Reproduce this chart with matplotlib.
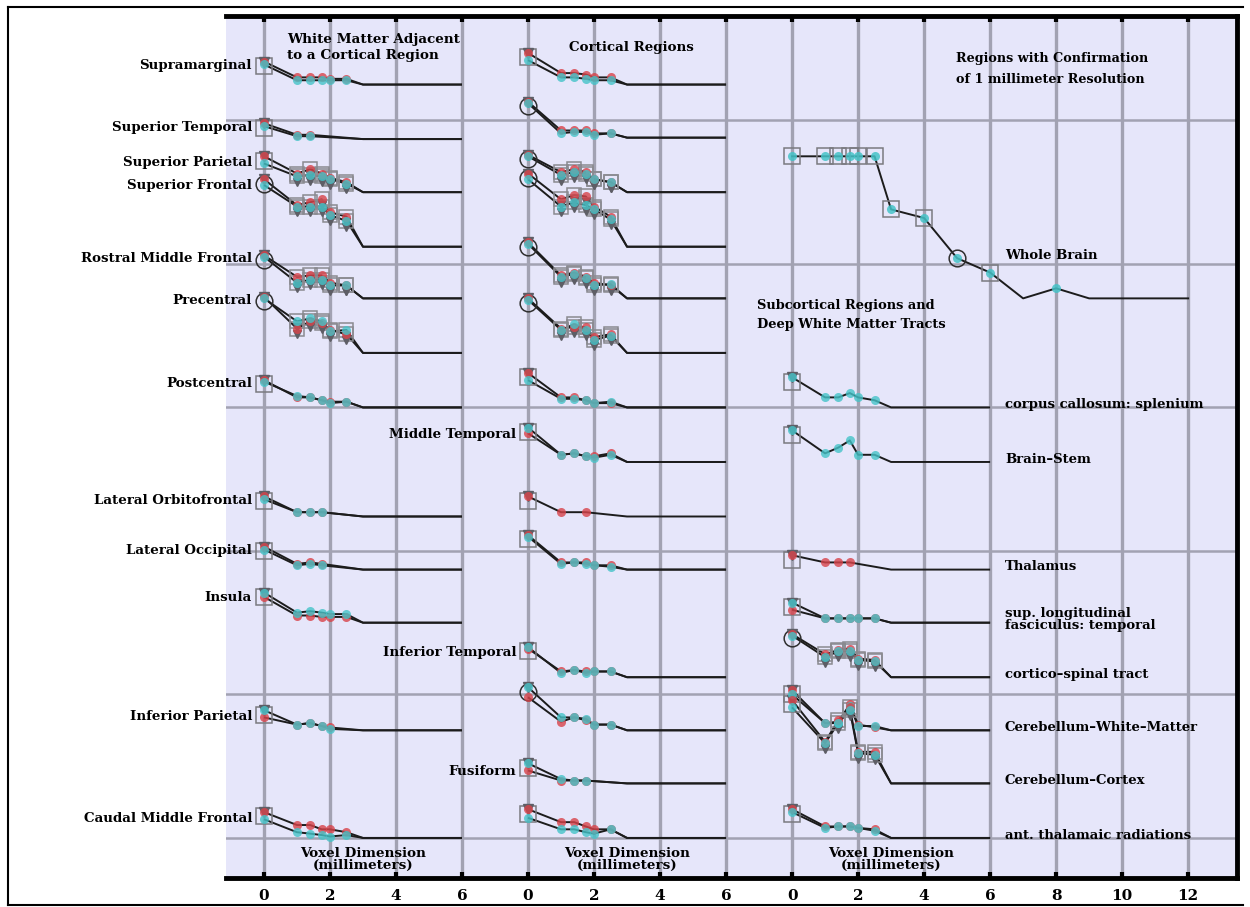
import matplotlib.pyplot as plt
import numpy as np
from matplotlib.lines import Line2D

plt.rcParams['font.family'] = ['DejaVu Serif']
plt.rcParams['font.weight'] = 'bold'

nan = np.nan

# voxel dimensions (mm) where each region was measured, and the flat tail
vox = [0, 1, 1.4, 1.75, 2, 2.5]
tail = [3, 6]
panel_x0 = [0, 8, 16]
tick_pos = np.arange(0, 29, 2)
tick_lab = ['0', '2', '4', '6', '0', '2', '4', '6', '0', '2', '4', '6', '8', '10', '12']

# --- White matter adjacent to a cortical region
p1_names = ['Supramarginal', 'Superior Temporal', 'Superior Parietal', 'Superior Frontal',
            'Rostral Middle Frontal', 'Precentral', 'Postcentral', 'Lateral Orbitofrontal',
            'Lateral Occipital', 'Insula', 'Inferior Parietal', 'Caudal Middle Frontal']
p1_red = [[54.1, 53.0, 53.0, 53.0, 52.9, 52.9],
          [49.8, 49.0, 49.0, nan, nan, nan],
          [47.5, 46.3, 46.6, 46.3, 46.0, 45.7],
          [45.9, 44.1, 44.3, 44.5, 43.6, 43.3],
          [40.6, 39.1, 39.2, 39.2, 38.7, 38.5],
          [37.7, 35.5, 36.0, 35.9, 35.4, 35.1],
          [31.9, 30.7, 30.7, 30.5, 30.4, 30.4],
          [23.8, 22.7, 22.7, 22.7, nan, nan],
          [20.3, 19.1, 19.2, 19.1, nan, nan],
          [16.8, 15.5, 15.5, 15.4, 15.4, 15.4],
          [8.4, 7.9, 8.0, 7.8, 7.7, nan],
          [1.8, 0.9, 0.9, 0.6, 0.6, 0.4]]
p1_cyan = [[53.9, 52.8, 52.8, 52.8, 52.8, 52.8],
           [49.6, 48.9, 48.9, nan, nan, nan],
           [47.0, 46.1, 46.2, 46.1, 45.9, 45.6],
           [45.5, 44.0, 44.0, 44.0, 43.4, 43.0],
           [40.5, 38.7, 38.9, 38.9, 38.5, 38.5],
           [37.6, 36.0, 36.2, 36.0, 35.3, 35.4],
           [31.8, 30.8, 30.7, 30.5, 30.3, 30.4],
           [23.6, 22.7, 22.7, 22.7, nan, nan],
           [20.1, 19.0, 19.1, 19.0, nan, nan],
           [17.1, 15.7, 15.8, 15.7, 15.6, 15.6],
           [8.9, 7.9, 8.0, 7.8, 7.6, nan],
           [1.3, 0.4, 0.3, 0.2, 0.1, 0.2]]
p1_base = [52.5, 48.7, 45.0, 41.2, 37.6, 33.8, 30.0, 22.4, 18.7, 15.0, 7.5, 0.0]

# --- Cortical regions
p2_names = ['', '', '', '', '', '', '', 'Middle Temporal', '', '', 'Inferior Temporal', '',
            'Fusiform', '']
p2_red = [[54.7, 53.3, 53.3, 53.2, 53.0, 53.0],
          [51.3, 49.3, 49.3, 49.3, 49.1, 49.1],
          [47.6, 46.4, 46.6, 46.4, 45.9, 45.7],
          [46.3, 44.5, 44.8, 44.7, 44.0, 43.3],
          [41.5, 39.2, 39.4, 39.1, 38.7, 38.5],
          [37.6, 35.5, 35.6, 35.6, 34.9, 35.1],
          [32.4, 30.7, 30.7, 30.5, 30.3, 30.3],
          [28.2, 26.7, 26.8, 26.6, 26.6, 26.8],
          [23.8, 22.7, nan, 22.7, nan, nan],
          [21.1, 19.2, 19.2, 19.2, 19.0, 19.0],
          [13.2, 11.6, 11.7, 11.6, 11.6, 11.6],
          [9.8, 8.1, 8.4, 8.2, 7.9, 7.9],
          [4.7, 4.0, 4.0, 4.0, nan, nan],
          [2.0, 1.1, 1.1, 0.8, 0.6, 0.6]]
p2_cyan = [[54.2, 53.0, 53.0, 52.9, 52.8, 52.8],
           [51.2, 49.1, 49.2, 49.2, 49.0, 49.1],
           [47.5, 46.2, 46.4, 46.3, 45.9, 45.7],
           [45.9, 44.0, 44.3, 44.1, 43.8, 43.1],
           [41.4, 39.1, 39.3, 39.0, 38.5, 38.6],
           [37.5, 35.4, 35.8, 35.4, 34.7, 35.0],
           [31.9, 30.6, 30.6, 30.5, 30.3, 30.4],
           [28.6, 26.7, 26.8, 26.6, 26.5, 26.7],
           [nan, nan, nan, nan, nan, nan],
           [21.0, 19.1, 19.2, 19.1, 19.0, 18.9],
           [13.3, 11.5, 11.7, 11.5, 11.6, 11.6],
           [10.5, 8.4, 8.4, 8.3, 7.9, 7.9],
           [5.2, 4.1, 4.0, 4.0, nan, nan],
           [1.4, 0.6, 0.6, 0.4, 0.3, 0.6]]
p2_base = [52.5, 48.8, 45.0, 41.2, 37.6, 33.8, 30.0, 26.2, 22.4, 18.7, 11.2, 7.5, 3.8, 0.0]

# --- Subcortical regions and deep white matter tracts
p3_names = ['corpus callosum: splenium', 'Brain–Stem', 'Thalamus',
            'sup. longitudinal\nfasciculus: temporal', 'cortico–spinal tract',
            'Cerebellum–White–Matter', 'Cerebellum–Cortex', 'ant. thalamaic radiations']
p3_red = [[nan, nan, nan, nan, nan, nan],
          [nan, nan, nan, nan, nan, nan],
          [19.7, 19.2, 19.2, 19.2, nan, nan],
          [15.9, 15.3, 15.3, 15.3, 15.3, 15.3],
          [14.2, 12.8, 13.1, 13.2, 12.5, 12.4],
          [10.3, 8.0, 8.1, 9.3, 7.9, 7.7],
          [9.6, 6.7, 8.2, 9.1, 6.0, 6.0],
          [2.0, 0.8, 0.8, 0.8, 0.7, 0.6]]
p3_cyan = [[32.1, 30.7, 30.7, 31.0, 30.7, 30.5],
           [28.4, 26.8, 27.2, 27.7, 26.7, 26.7],
           [nan, nan, nan, nan, nan, nan],
           [16.4, 15.3, 15.3, 15.3, 15.3, 15.3],
           [14.1, 12.6, 13.0, 13.0, 12.4, 12.3],
           [10.0, 8.0, 8.0, 9.2, 7.8, 7.8],
           [9.1, 6.6, 8.0, 8.9, 5.9, 5.8],
           [1.8, 0.7, 0.8, 0.8, 0.7, 0.5]]
p3_base = [30.0, 26.2, 18.7, 15.0, 11.2, 7.5, 3.8, 0.0]

# --- Whole brain, confirmed down to 1 mm
wb_vox = [0, 1, 1.4, 1.75, 2, 2.5, 3, 4, 5, 6, 7, 8]
wb_val = [47.5, 47.5, 47.5, 47.5, 47.5, 47.5, 43.8, 43.2, 40.4, 39.4, 37.6, 38.3]
wb_measured = [1, 1, 1, 1, 1, 1, 1, 1, 1, 1, 0, 1]
wb_base = 37.6
wb_tail = [9, 12]

RED = '#d8434a'
CYAN = '#45c3c8'
GRAY = '#5e5e66'
LINE = '#1c1c1c'
FS = 9.6
ringed = {('p1', 3), ('p1', 4), ('p1', 5), ('p2', 1), ('p2', 2), ('p2', 3), ('p2', 4),
          ('p2', 5), ('p2', 11), ('p3', 4)}
tri_marks = {('p1', 2), ('p1', 3), ('p1', 4), ('p1', 5), ('p2', 2), ('p2', 3), ('p2', 4),
             ('p2', 5), ('p3', 4), ('p3', 6)}


def draw_curve(ax, key, x0, red, cyan, base):
    xv = np.array(vox) + x0
    starts = []
    for vals, col in ((red, RED), (cyan, CYAN)):
        v = np.array(vals, float)
        m = np.isfinite(v)
        if not m.any():
            continue
        ax.plot(np.r_[xv[m], np.array(tail) + x0], np.r_[v[m], base, base],
                color=LINE, lw=1.4, zorder=3, solid_capstyle='butt')
        starts.append(v[0])
        if key in tri_marks:
            ax.plot(xv[m][1:], v[m][1:], ls='none', marker='s', ms=10, mfc='none',
                    mec='#8a8a90', mew=1.1, zorder=4)
            ax.plot(xv[m][1:], v[m][1:] - 0.4, ls='none', marker='v', ms=5.5, color=GRAY, zorder=5)
    top = max(starts)
    ring = 'o' if key in ringed else 's'
    ax.plot([x0], [top - 0.3], marker=ring, ms=12, mfc='none',
            mec='#303030' if ring == 'o' else '#7a7a80', mew=1.1, zorder=4)
    ax.plot([x0], [top], marker='v', ms=6.5, color=GRAY, zorder=5)
    for vals, col in ((red, RED), (cyan, CYAN)):
        v = np.array(vals, float)
        m = np.isfinite(v)
        ax.plot(xv[m], v[m], ls='none', marker='o', ms=6.5, color=col, alpha=0.8,
                mec='none', zorder=6)
    return np.nanmean([r for r in (red[0], cyan[0]) if np.isfinite(r)])


fig = plt.figure(figsize=(12.5, 9.07), dpi=100)
ax = fig.add_axes([0.1808, 0.032, 0.8088, 0.9504])
ax.set_facecolor('#e6e6fa')
ax.set_xlim(-1.15, 29.48)
ax.set_ylim(-2.79, 57.28)

for xt in tick_pos:
    ax.axvline(xt, color='#a2a2b2', lw=2.4, zorder=1)
for yt in range(0, 51, 10):
    ax.axhline(yt, color='#a2a2b2', lw=1.8, zorder=1)

# panel 1
for i, name in enumerate(p1_names):
    ys = draw_curve(ax, ('p1', i), panel_x0[0], p1_red[i], p1_cyan[i], p1_base[i])
    ax.text(-0.36, ys - 0.2, name, ha='right', va='center', fontsize=FS)

# panel 2
for i, name in enumerate(p2_names):
    ys = draw_curve(ax, ('p2', i), panel_x0[1], p2_red[i], p2_cyan[i], p2_base[i])
    if name:
        ax.text(panel_x0[1] - 0.36, ys - 0.3, name, ha='right', va='center', fontsize=FS)

# panel 3
for i, name in enumerate(p3_names):
    draw_curve(ax, ('p3', i), panel_x0[2], p3_red[i], p3_cyan[i], p3_base[i])
    ax.text(panel_x0[2] + 6.45, p3_base[i] + 0.2, name, ha='left', va='center',
            fontsize=9.5, linespacing=0.9)

# whole brain
wx = np.array(wb_vox) + panel_x0[2]
wv = np.array(wb_val)
ms = np.array(wb_measured, bool)
ax.plot(np.r_[wx, np.array(wb_tail) + panel_x0[2]], np.r_[wv, wb_base, wb_base],
        color=LINE, lw=1.4, zorder=3)
sq = ms & (np.array(wb_vox) < 7) & (np.array(wb_vox) != 5)
ax.plot(wx[sq], wv[sq], ls='none', marker='s', ms=12, mfc='none', mec='#7a7a80', mew=1.1, zorder=4)
ax.plot(wx[np.array(wb_vox) == 5], wv[np.array(wb_vox) == 5], ls='none', marker='o', ms=12,
        mfc='none', mec='#303030', mew=1.1, zorder=4)
ax.plot(wx[ms], wv[ms], ls='none', marker='o', ms=6.5, color=CYAN, alpha=0.85, mec='none', zorder=6)
ax.text(panel_x0[2] + 6.45, 40.6, 'Whole Brain', ha='left', va='center', fontsize=9.5)

# panel headings
ax.text(0.7, 55.1, 'White Matter Adjacent\nto a Cortical Region', ha='left', va='center',
        fontsize=9.7, linespacing=1.3)
ax.text(9.24, 55.1, 'Cortical Regions', ha='left', va='center', fontsize=9.6)
ax.text(20.97, 53.6, 'Regions with Confirmation\nof 1 millimeter Resolution', ha='left',
        va='center', fontsize=9.2, linespacing=1.75)
ax.text(14.94, 36.45, 'Subcortical Regions and\nDeep White Matter Tracts', ha='left',
        va='center', fontsize=9.4, linespacing=1.6)
for x0 in panel_x0:
    ax.text(x0 + 3, -1.5, 'Voxel Dimension\n(millimeters)', ha='center', va='center',
            fontsize=9.7, linespacing=0.95)

ax.set_xticks(tick_pos)
ax.set_xticklabels(tick_lab, fontsize=11)
ax.set_yticks([])
ax.tick_params(axis='x', direction='in', length=4, width=3, top=True, pad=8, color='black')
ax.spines['left'].set_visible(False)
for s in ('top', 'bottom', 'right'):
    ax.spines[s].set_linewidth(3.5)

# outer frame
for xs, ys in (([0.0064, 0.0064], [0.0022, 0.9923]), ([0.0064, 0.994], [0.9923, 0.9923]),
               ([0.0064, 0.994], [0.0022, 0.0022])):
    fig.add_artist(Line2D(xs, ys, color='black', lw=1.5, transform=fig.transFigure))

fig.savefig('out.png', dpi=100)
